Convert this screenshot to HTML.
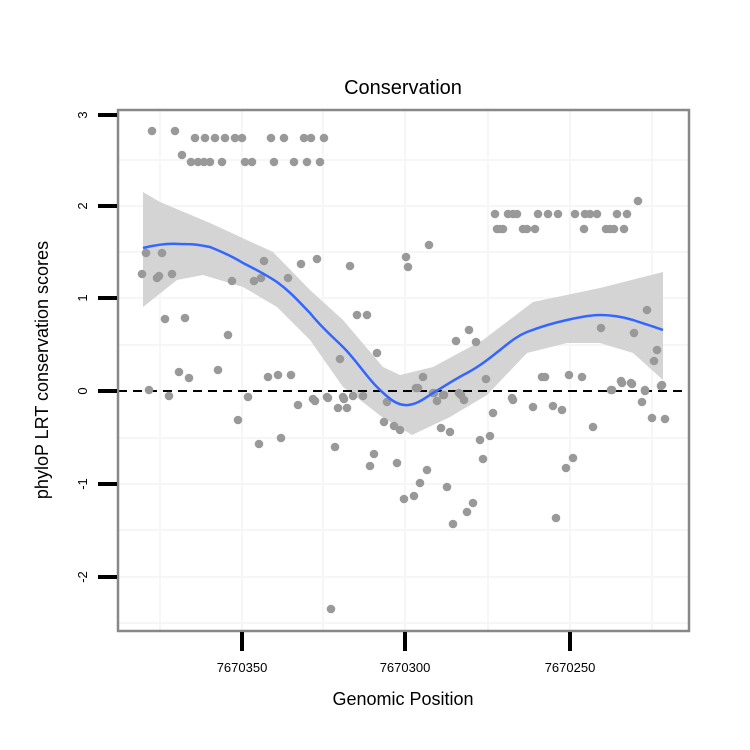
<!DOCTYPE html>
<html><head><meta charset="utf-8"><style>body{margin:0;background:#fff}svg{display:block}</style></head><body>
<svg width="750" height="750" viewBox="0 0 750 750" xmlns="http://www.w3.org/2000/svg" font-family="Liberation Sans, sans-serif">
<rect width="750" height="750" fill="#fff"/>
<g stroke="#f6f6f6" stroke-width="2">
<line x1="160" y1="110" x2="160" y2="631"/><line x1="242" y1="110" x2="242" y2="631"/><line x1="323" y1="110" x2="323" y2="631"/><line x1="405" y1="110" x2="405" y2="631"/><line x1="488" y1="110" x2="488" y2="631"/><line x1="570" y1="110" x2="570" y2="631"/><line x1="652" y1="110" x2="652" y2="631"/>
<line x1="118" y1="160" x2="689" y2="160"/><line x1="118" y1="206" x2="689" y2="206"/><line x1="118" y1="252" x2="689" y2="252"/><line x1="118" y1="298" x2="689" y2="298"/><line x1="118" y1="345" x2="689" y2="345"/><line x1="118" y1="438" x2="689" y2="438"/><line x1="118" y1="484" x2="689" y2="484"/><line x1="118" y1="530" x2="689" y2="530"/><line x1="118" y1="577" x2="689" y2="577"/><line x1="118" y1="623" x2="689" y2="623"/>
</g>
<path d="M143,192 L160,202 L210,223 L273,252 L310,290 L343,320 L383,367 L400,375 L433,367 L483,340 L533,302 L600,288 L663,272 L663,380 L633,353 L600,343 L567,343 L527,353 L487,395 L450,417 L412,435 L382,417 L351,393 L343,387 L310,340 L277,307 L243,287 L203,275 L177,280 L143,307 Z" fill="#d4d4d4"/>
<line x1="118" y1="391" x2="689" y2="391" stroke="#000" stroke-width="2" stroke-dasharray="9,6"/>
<g fill="#999">
<circle cx="152" cy="131" r="4.3"/><circle cx="175" cy="131" r="4.3"/>
<circle cx="195" cy="138" r="4.3"/><circle cx="205" cy="138" r="4.3"/><circle cx="215" cy="138" r="4.3"/><circle cx="225" cy="138" r="4.3"/><circle cx="235" cy="138" r="4.3"/><circle cx="242" cy="138" r="4.3"/><circle cx="271" cy="138" r="4.3"/><circle cx="284" cy="138" r="4.3"/><circle cx="304" cy="138" r="4.3"/><circle cx="311" cy="138" r="4.3"/><circle cx="324" cy="138" r="4.3"/>
<circle cx="182" cy="155" r="4.3"/>
<circle cx="191" cy="162" r="4.3"/><circle cx="198" cy="162" r="4.3"/><circle cx="204" cy="162" r="4.3"/><circle cx="210" cy="162" r="4.3"/><circle cx="222" cy="162" r="4.3"/><circle cx="245" cy="162" r="4.3"/><circle cx="252" cy="162" r="4.3"/><circle cx="274" cy="162" r="4.3"/><circle cx="294" cy="162" r="4.3"/><circle cx="307" cy="162" r="4.3"/><circle cx="320" cy="162" r="4.3"/>
<circle cx="495" cy="214" r="4.3"/><circle cx="508" cy="214" r="4.3"/><circle cx="513" cy="214" r="4.3"/><circle cx="517" cy="214" r="4.3"/><circle cx="538" cy="214" r="4.3"/><circle cx="548" cy="214" r="4.3"/><circle cx="558" cy="214" r="4.3"/><circle cx="575" cy="214" r="4.3"/><circle cx="585" cy="214" r="4.3"/><circle cx="590" cy="214" r="4.3"/><circle cx="597" cy="214" r="4.3"/><circle cx="617" cy="214" r="4.3"/><circle cx="627" cy="214" r="4.3"/>
<circle cx="497" cy="229" r="4.3"/><circle cx="500" cy="229" r="4.3"/><circle cx="503" cy="229" r="4.3"/><circle cx="523" cy="229" r="4.3"/><circle cx="527" cy="229" r="4.3"/><circle cx="535" cy="229" r="4.3"/><circle cx="584" cy="229" r="4.3"/><circle cx="606" cy="229" r="4.3"/><circle cx="610" cy="229" r="4.3"/><circle cx="614" cy="229" r="4.3"/><circle cx="624" cy="229" r="4.3"/><circle cx="638" cy="201" r="4.3"/>
<circle cx="142" cy="274" r="4.3"/><circle cx="146" cy="253" r="4.3"/><circle cx="162" cy="253" r="4.3"/><circle cx="157" cy="278" r="4.3"/><circle cx="159" cy="276" r="4.3"/><circle cx="172" cy="274" r="4.3"/><circle cx="165" cy="319" r="4.3"/><circle cx="185" cy="318" r="4.3"/><circle cx="232" cy="281" r="4.3"/><circle cx="264" cy="261" r="4.3"/><circle cx="254" cy="281" r="4.3"/><circle cx="261" cy="278" r="4.3"/><circle cx="288" cy="278" r="4.3"/><circle cx="301" cy="264" r="4.3"/><circle cx="317" cy="259" r="4.3"/><circle cx="350" cy="266" r="4.3"/><circle cx="357" cy="315" r="4.3"/><circle cx="367" cy="315" r="4.3"/><circle cx="228" cy="335" r="4.3"/><circle cx="340" cy="359" r="4.3"/><circle cx="377" cy="353" r="4.3"/><circle cx="179" cy="372" r="4.3"/><circle cx="189" cy="378" r="4.3"/><circle cx="218" cy="370" r="4.3"/><circle cx="268" cy="377" r="4.3"/><circle cx="278" cy="375" r="4.3"/><circle cx="291" cy="375" r="4.3"/><circle cx="149" cy="390" r="4.3"/><circle cx="169" cy="396" r="4.3"/><circle cx="248" cy="397" r="4.3"/><circle cx="313" cy="399" r="4.3"/><circle cx="327" cy="397" r="4.3"/><circle cx="343" cy="397" r="4.3"/><circle cx="353" cy="396" r="4.3"/><circle cx="363" cy="396" r="4.3"/><circle cx="406" cy="257" r="4.3"/><circle cx="408" cy="267" r="4.3"/>
<circle cx="429" cy="245" r="4.3"/><circle cx="456" cy="341" r="4.3"/><circle cx="469" cy="330" r="4.3"/><circle cx="476" cy="342" r="4.3"/><circle cx="423" cy="377" r="4.3"/><circle cx="416" cy="388" r="4.3"/><circle cx="486" cy="379" r="4.3"/><circle cx="542" cy="377" r="4.3"/><circle cx="545" cy="377" r="4.3"/><circle cx="569" cy="375" r="4.3"/><circle cx="582" cy="377" r="4.3"/><circle cx="601" cy="328" r="4.3"/><circle cx="634" cy="333" r="4.3"/><circle cx="647" cy="310" r="4.3"/><circle cx="657" cy="350" r="4.3"/><circle cx="654" cy="361" r="4.3"/><circle cx="621" cy="381" r="4.3"/><circle cx="631" cy="383" r="4.3"/><circle cx="611" cy="390" r="4.3"/><circle cx="661" cy="386" r="4.3"/><circle cx="645" cy="390" r="4.3"/><circle cx="433" cy="393" r="4.3"/><circle cx="443" cy="395" r="4.3"/><circle cx="459" cy="393" r="4.3"/><circle cx="512" cy="398" r="4.3"/>
<circle cx="331" cy="609" r="4.3"/><circle cx="238" cy="420" r="4.3"/><circle cx="259" cy="444" r="4.3"/><circle cx="281" cy="438" r="4.3"/><circle cx="298" cy="405" r="4.3"/><circle cx="315" cy="401" r="4.3"/><circle cx="328" cy="398" r="4.3"/><circle cx="338" cy="408" r="4.3"/><circle cx="347" cy="408" r="4.3"/><circle cx="344" cy="399" r="4.3"/><circle cx="335" cy="447" r="4.3"/><circle cx="374" cy="454" r="4.3"/><circle cx="370" cy="466" r="4.3"/><circle cx="397" cy="463" r="4.3"/><circle cx="384" cy="422" r="4.3"/><circle cx="394" cy="426" r="4.3"/><circle cx="400" cy="430" r="4.3"/><circle cx="387" cy="402" r="4.3"/><circle cx="418" cy="388" r="4.3"/><circle cx="427" cy="470" r="4.3"/><circle cx="420" cy="483" r="4.3"/><circle cx="414" cy="496" r="4.3"/><circle cx="404" cy="499" r="4.3"/><circle cx="447" cy="487" r="4.3"/><circle cx="441" cy="428" r="4.3"/><circle cx="450" cy="432" r="4.3"/><circle cx="437" cy="401" r="4.3"/><circle cx="434" cy="393" r="4.3"/><circle cx="444" cy="395" r="4.3"/><circle cx="461" cy="395" r="4.3"/><circle cx="464" cy="400" r="4.3"/><circle cx="473" cy="503" r="4.3"/><circle cx="467" cy="512" r="4.3"/><circle cx="453" cy="524" r="4.3"/><circle cx="480" cy="440" r="4.3"/><circle cx="490" cy="436" r="4.3"/><circle cx="483" cy="459" r="4.3"/><circle cx="493" cy="413" r="4.3"/><circle cx="513" cy="400" r="4.3"/><circle cx="533" cy="407" r="4.3"/><circle cx="553" cy="406" r="4.3"/><circle cx="562" cy="410" r="4.3"/><circle cx="593" cy="427" r="4.3"/><circle cx="573" cy="458" r="4.3"/><circle cx="566" cy="468" r="4.3"/><circle cx="556" cy="518" r="4.3"/><circle cx="612" cy="390" r="4.3"/><circle cx="622" cy="383" r="4.3"/><circle cx="632" cy="384" r="4.3"/><circle cx="642" cy="402" r="4.3"/><circle cx="645" cy="391" r="4.3"/><circle cx="652" cy="418" r="4.3"/><circle cx="665" cy="419" r="4.3"/><circle cx="662" cy="385" r="4.3"/>
</g>
<path d="M143,248 C155,245 168,243 180,244 C195,244 200,245 210,247 C225,253 235,258 243,263 C255,269 265,274 277,282 C292,293 300,303 310,313 C322,328 333,337 343,347 C356,360 366,376 377,387 C390,400 398,406 408,405 C418,404 425,398 433,393 C445,386 455,379 467,373 C480,366 490,358 500,350 C510,342 517,336 527,332 C540,327 553,323 567,320 C580,317 590,315 600,315 C613,315 623,317 633,320 C645,324 655,327 663,330" fill="none" stroke="#3366ff" stroke-width="2.5"/>
<rect x="118" y="110" width="571" height="521" fill="none" stroke="#888" stroke-width="2.5"/>
<g stroke="#000" stroke-width="4">
<line x1="98" y1="115" x2="117" y2="115"/><line x1="98" y1="206" x2="117" y2="206"/><line x1="98" y1="298" x2="117" y2="298"/><line x1="98" y1="391" x2="117" y2="391"/><line x1="98" y1="484" x2="117" y2="484"/><line x1="98" y1="577" x2="117" y2="577"/>
<line x1="242" y1="632" x2="242" y2="651"/><line x1="405" y1="632" x2="405" y2="651"/><line x1="570" y1="632" x2="570" y2="651"/>
</g>
<g font-size="13" text-anchor="middle" fill="#000">
<text transform="translate(87,115) rotate(-90)">3</text>
<text transform="translate(87,206) rotate(-90)">2</text>
<text transform="translate(87,298) rotate(-90)">1</text>
<text transform="translate(87,391) rotate(-90)">0</text>
<text transform="translate(87,484) rotate(-90)">-1</text>
<text transform="translate(87,577) rotate(-90)">-2</text>
<text x="242" y="672">7670350</text><text x="405" y="672">7670300</text><text x="570" y="672">7670250</text>
</g>
<text x="403" y="705" font-size="18" text-anchor="middle">Genomic Position</text>
<text transform="translate(48,370) rotate(-90)" font-size="18" text-anchor="middle">phyloP LRT conservation scores</text>
<text x="403" y="94" font-size="20" text-anchor="middle">Conservation</text>
</svg>
</body></html>
